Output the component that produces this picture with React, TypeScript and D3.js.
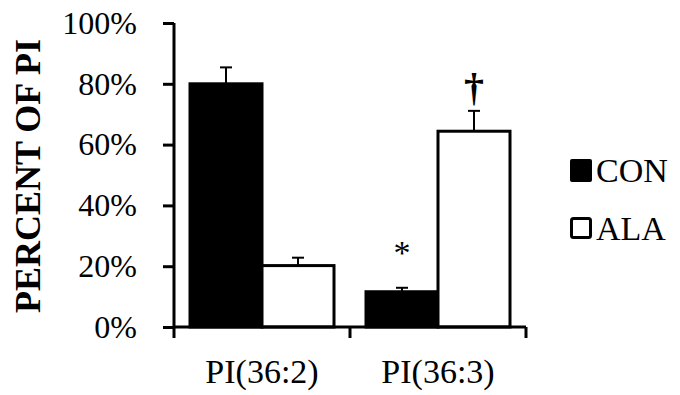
import { useEffect, useRef } from "react";
import * as d3 from "d3";

// Data
const groups = ["PI(36:2)", "PI(36:3)"];
const series = ["CON", "ALA"];
const conValues = [80, 11.6];
const alaValues = [20.2, 64.4];
const conErrors = [5.4, 1.3];
const alaErrors = [2.6, 6.7];
const conMarks = ["", "*"];
const alaMarks = ["", "\u2020"];
const yTicks = [0, 20, 40, 60, 80, 100];

const FONT = "Liberation Serif, Tinos, Times New Roman, Times, DejaVu Serif, serif";

const App = () => {
  const svgRef = useRef<SVGSVGElement>(null);

  useEffect(() => {
    const svg = d3.select(svgRef.current);
    svg.selectAll("*").remove();

    const x0 = d3.scaleBand().domain(groups).range([174, 526]).padding(0);
    const x1 = d3
      .scaleBand()
      .domain(series)
      .range([16, x0.bandwidth() - 16])
      .padding(0);
    const y = d3.scaleLinear().domain([0, 100]).range([327, 23]);

    const rows = groups.map((g, i) => ({
      group: g,
      bars: [
        { key: "CON", value: conValues[i], err: conErrors[i], mark: conMarks[i], fill: "#000" },
        { key: "ALA", value: alaValues[i], err: alaErrors[i], mark: alaMarks[i], fill: "#fff" },
      ],
    }));

    // Bars
    const gGroups = svg
      .append("g")
      .selectAll("g")
      .data(rows)
      .join("g")
      .attr("transform", (d) => `translate(${x0(d.group)},0)`);

    gGroups
      .selectAll("rect")
      .data((d) => d.bars)
      .join("rect")
      .attr("x", (d) => x1(d.key)!)
      .attr("y", (d) => y(d.value))
      .attr("width", x1.bandwidth())
      .attr("height", (d) => y(0) - y(d.value))
      .attr("fill", (d) => d.fill)
      .attr("stroke", "#000")
      .attr("stroke-width", 3);

    // Error bars (upper only)
    const err = gGroups
      .selectAll("g.err")
      .data((d) => d.bars)
      .join("g")
      .attr("class", "err")
      .attr("transform", (d) => `translate(${x1(d.key)! + x1.bandwidth() / 2},0)`);
    err
      .append("line")
      .attr("y1", (d) => y(d.value))
      .attr("y2", (d) => y(d.value + d.err))
      .attr("stroke", "#000")
      .attr("stroke-width", 2);
    err
      .append("line")
      .attr("x1", -6)
      .attr("x2", 6)
      .attr("y1", (d) => y(d.value + d.err))
      .attr("y2", (d) => y(d.value + d.err))
      .attr("stroke", "#000")
      .attr("stroke-width", 2);

    // Significance marks
    err
      .filter((d) => d.mark !== "")
      .append("text")
      .attr("y", (d) => (d.mark === "*" ? y(d.value + d.err) - 24 : y(d.value + d.err) - 10))
      .attr("text-anchor", "middle")
      .style("font-family", FONT)
      .attr("font-size", (d) => (d.mark === "*" ? 34 : 40))
      .attr("font-weight", (d) => (d.mark === "*" ? "normal" : "bold"))
      .attr("fill", "#000")
      .text((d) => d.mark);

    // Y axis
    const yAxis = svg
      .append("g")
      .attr("transform", "translate(174,0)")
      .call(
        d3
          .axisLeft(y)
          .tickValues(yTicks)
          .tickSize(11)
          .tickPadding(26)
          .tickFormat((d) => `${d}%`)
      );
    yAxis.attr("font-family", null);
    yAxis.select(".domain").attr("d", `M0,${y(100)}V${y(0)}`).attr("stroke-width", 3);
    yAxis.selectAll(".tick line").attr("stroke-width", 3);
    yAxis
      .selectAll(".tick text")
      .style("font-family", FONT)
      .attr("font-size", 32)
      .attr("fill", "#000");

    // X axis
    const xAxis = svg
      .append("g")
      .attr("transform", `translate(0,${y(0)})`)
      .call(d3.axisBottom(x0).tickSize(0).tickPadding(32));
    xAxis.attr("font-family", null);
    xAxis.select(".domain").attr("d", "M174,0H526").attr("stroke-width", 3);
    xAxis
      .selectAll(".tick text")
      .style("font-family", FONT)
      .attr("font-size", 34)
      .attr("fill", "#000");
    xAxis
      .append("g")
      .selectAll("line")
      .data([174, 350, 526])
      .join("line")
      .attr("x1", (d) => d)
      .attr("x2", (d) => d)
      .attr("y1", 0)
      .attr("y2", 11)
      .attr("stroke", "#000")
      .attr("stroke-width", 3);

    // Y label
    svg
      .append("text")
      .attr("transform", "translate(40,176) rotate(-90)")
      .attr("text-anchor", "middle")
      .style("font-family", FONT)
      .attr("font-weight", "bold")
      .attr("font-size", 36)
      .attr("fill", "#000")
      .text("PERCENT OF PI");

    // Legend
    const legend = svg
      .append("g")
      .selectAll("g")
      .data(series)
      .join("g")
      .attr("transform", (_, i) => `translate(570,${159 + i * 58})`);
    legend
      .append("rect")
      .attr("x", (_, i) => (i === 0 ? 0 : 1.5))
      .attr("y", (_, i) => (i === 0 ? 0 : 1.5))
      .attr("width", (_, i) => (i === 0 ? 22 : 19))
      .attr("height", (_, i) => (i === 0 ? 23 : 19))
      .attr("rx", 2)
      .attr("fill", (_, i) => (i === 0 ? "#000" : "#fff"))
      .attr("stroke", (_, i) => (i === 0 ? "none" : "#000"))
      .attr("stroke-width", 3);
    legend
      .append("text")
      .attr("x", 26)
      .attr("y", 23)
      .style("font-family", FONT)
      .attr("font-size", 34)
      .attr("fill", "#000")
      .text((d) => d);
  }, []);

  return (
    <svg
      ref={svgRef}
      width={680}
      height={395}
      style={{ position: "absolute", left: 0, top: 0, background: "#fff" }}
    ></svg>
  );
};

export default App;
